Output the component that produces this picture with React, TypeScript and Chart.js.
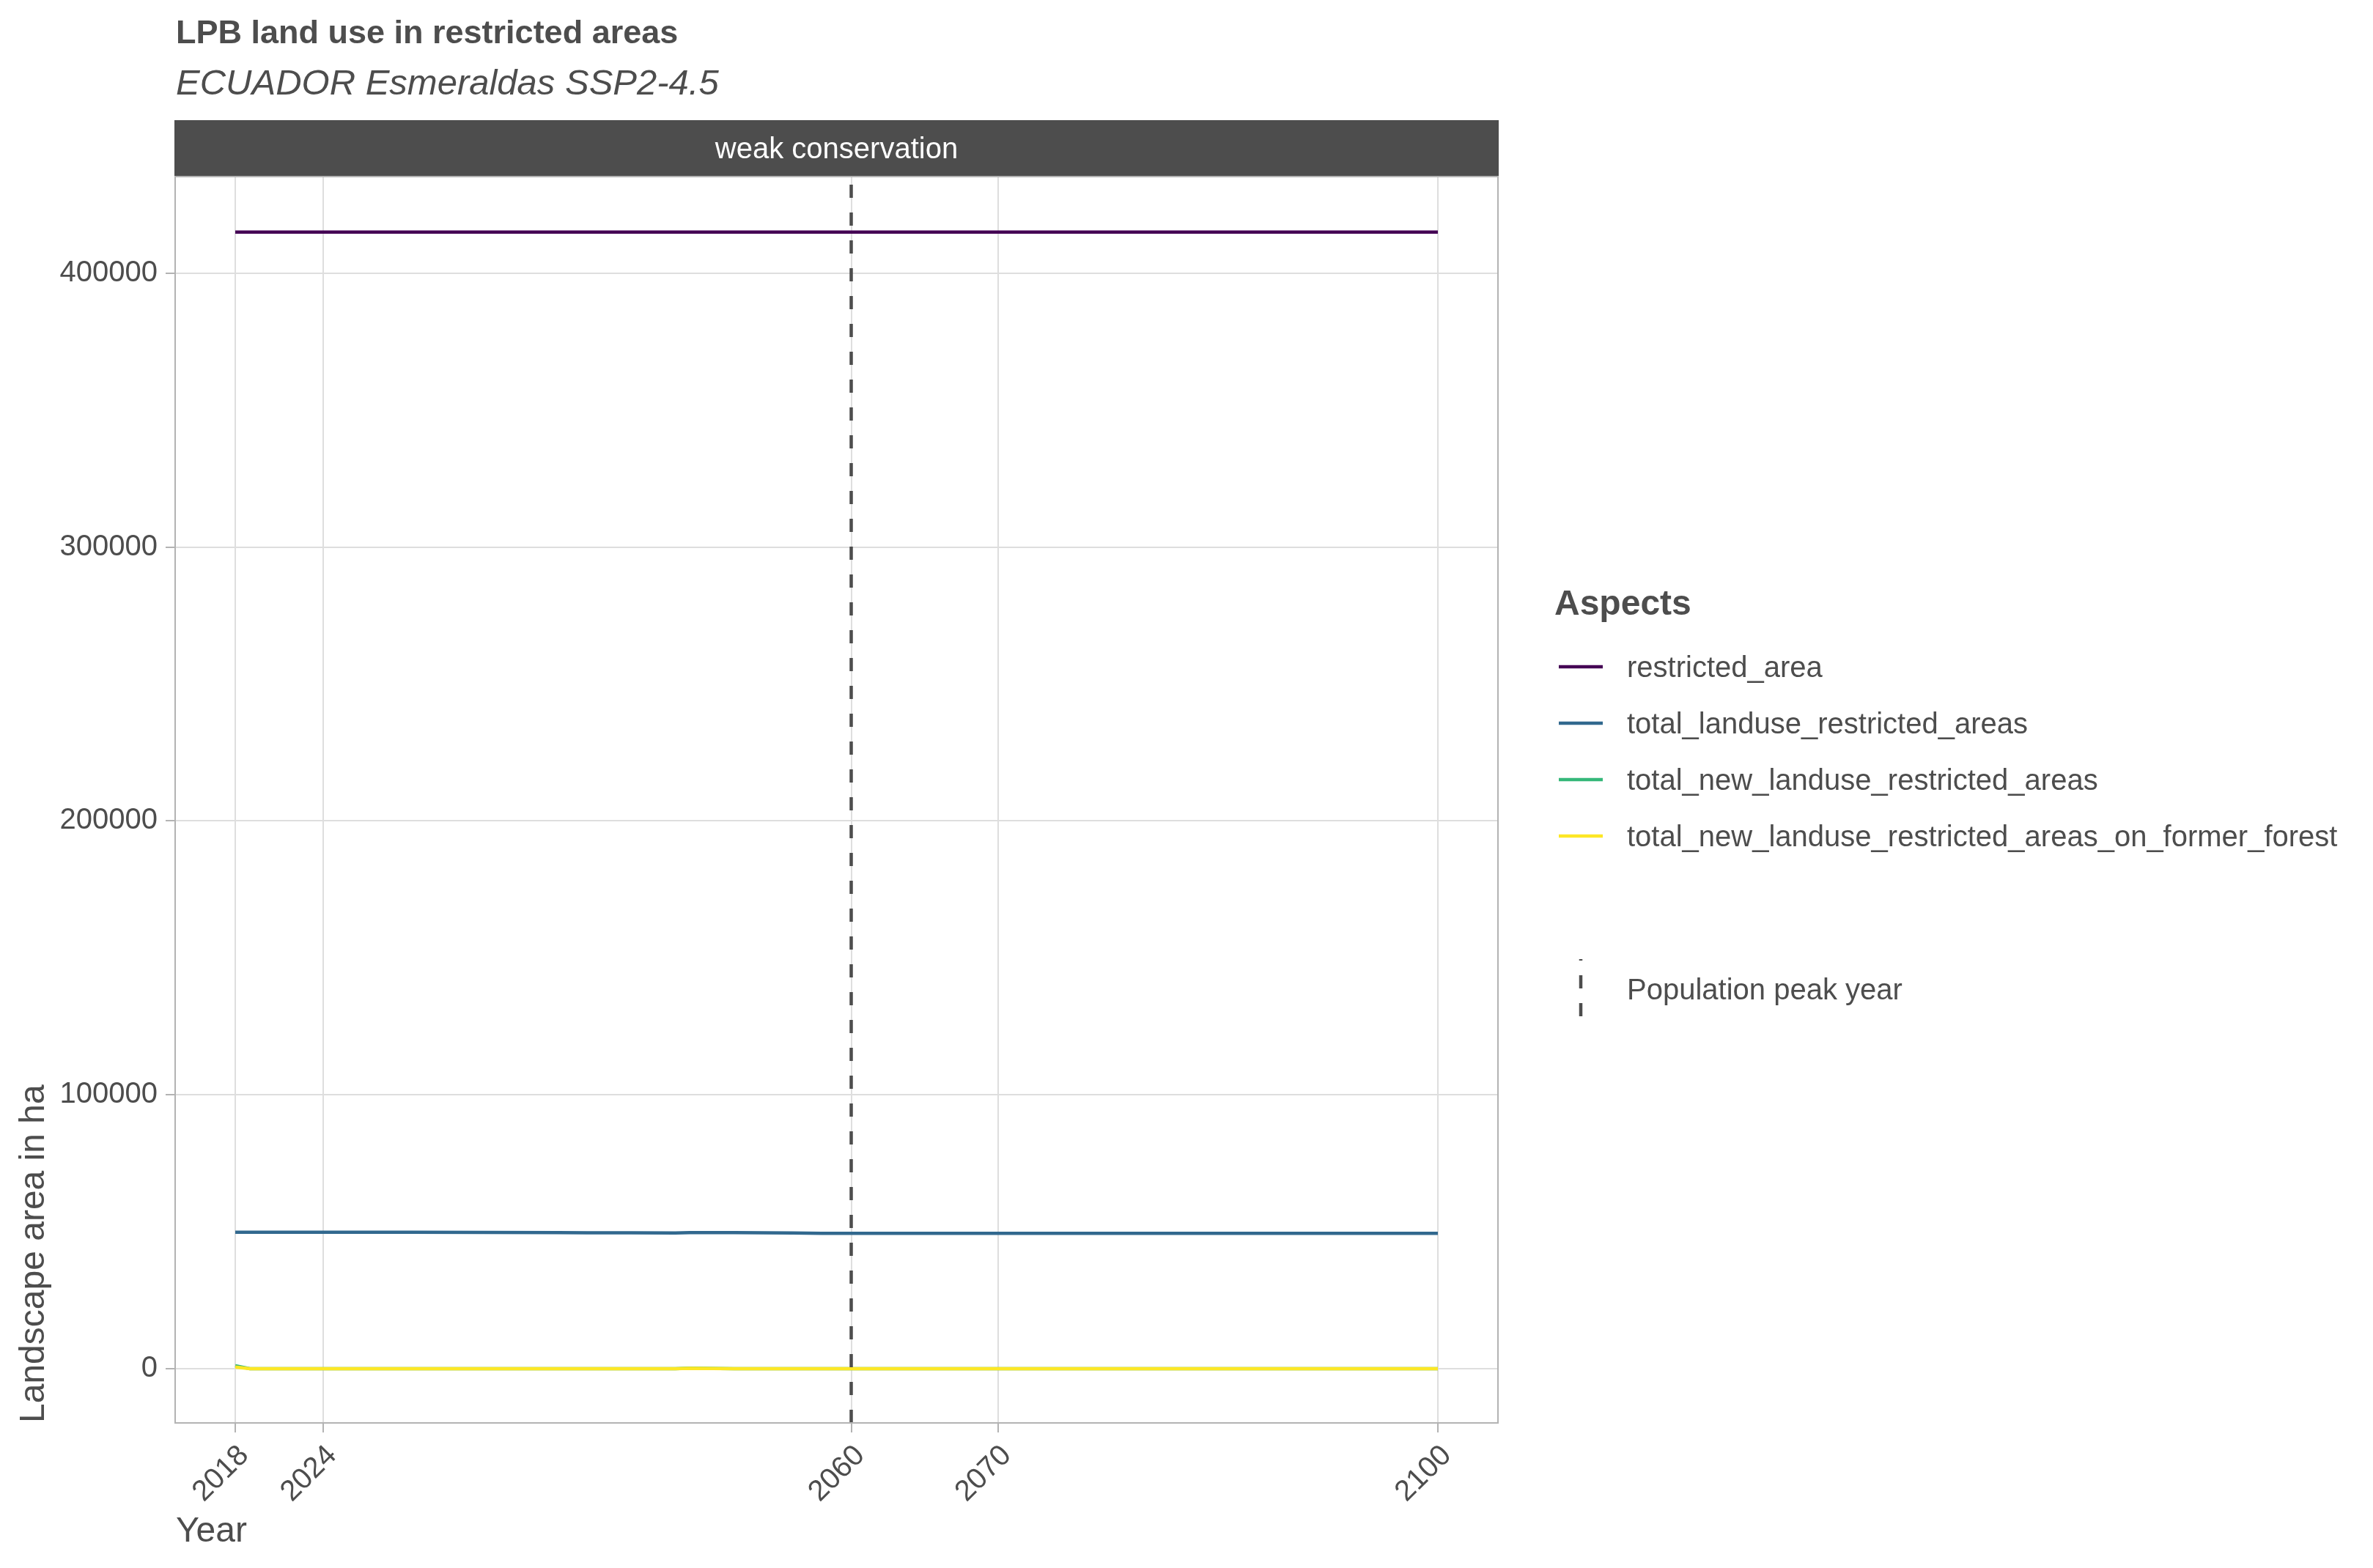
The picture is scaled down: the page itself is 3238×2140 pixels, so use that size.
import React, { useEffect, useRef } from "react";
import { Chart, registerables } from "chart.js";

Chart.register(...registerables);

const W = 3238;
const H = 2140;
const FONT = "'Liberation Sans', Arial, Helvetica, sans-serif";
const TEXT = "#4D4D4D";

// ---- data ----
const years = [2018, 2019, 2020, 2024, 2030, 2035, 2040, 2042, 2045, 2048, 2049, 2052, 2054, 2056, 2058, 2060, 2070, 2080, 2090, 2100];
const restrictedArea = [415000, 415000, 415000, 415000, 415000, 415000, 415000, 415000, 415000, 415000, 415000, 415000, 415000, 415000, 415000, 415000, 415000, 415000, 415000, 415000];
const totalLanduseRestricted = [49800, 49800, 49800, 49800, 49800, 49750, 49700, 49600, 49600, 49550, 49700, 49700, 49650, 49550, 49400, 49400, 49400, 49400, 49400, 49400];
const totalNewLanduseRestricted = [1100, 0, 0, 0, 0, 0, 0, 0, 0, 0, 200, 0, 0, 0, 0, 0, 0, 0, 0, 0];
const totalNewLanduseOnForest = [600, 0, 0, 0, 0, 0, 0, 0, 0, 0, 150, 0, 0, 0, 0, 0, 0, 0, 0, 0];

const seriesNames = [
  "restricted_area",
  "total_landuse_restricted_areas",
  "total_new_landuse_restricted_areas",
  "total_new_landuse_restricted_areas_on_former_forest",
];
const seriesValues = [restrictedArea, totalLanduseRestricted, totalNewLanduseRestricted, totalNewLanduseOnForest];
const seriesColors = ["#440154", "#31688E", "#35B779", "#FDE725"];

const xTickYears = [2018, 2024, 2060, 2070, 2100];
const yTickValues = [0, 100000, 200000, 300000, 400000];
const peakYear = 2060;

const xMin = 2013.9;
const xMax = 2104.1;
const yMin = -19800;
const yMax = 435300;

const titleText = "LPB land use in restricted areas";
const subtitleText = "ECUADOR Esmeraldas SSP2-4.5";
const stripText = "weak conservation";
const xTitle = "Year";
const yTitle = "Landscape area in ha";
const legendTitle = "Aspects";
const peakLabel = "Population peak year";

const decorPlugin = {
  id: "decor",
  beforeDraw(chart: any) {
    const ctx = chart.ctx;
    ctx.save();
    ctx.fillStyle = "#FFFFFF";
    ctx.fillRect(0, 0, W, H);
    ctx.restore();
  },
  afterDatasetsDraw(chart: any) {
    const { ctx, chartArea } = chart;
    ctx.save();
    ctx.strokeStyle = "#B3B3B3";
    ctx.lineWidth = 2;
    ctx.strokeRect(chartArea.left, chartArea.top, chartArea.right - chartArea.left, chartArea.bottom - chartArea.top);
    ctx.restore();
  },
  afterDraw(chart: any) {
    const { ctx, chartArea } = chart;
    const xScale = chart.scales.x;
    ctx.save();
    // titles
    ctx.fillStyle = TEXT;
    ctx.textAlign = "left";
    ctx.textBaseline = "alphabetic";
    ctx.font = `bold 45px ${FONT}`;
    ctx.fillText(titleText, 240, 59);
    ctx.font = `italic 49px ${FONT}`;
    ctx.fillText(subtitleText, 240, 129);

    // strip
    ctx.fillStyle = "#4D4D4D";
    ctx.fillRect(chartArea.left - 1, 164, chartArea.right - chartArea.left + 2, 76);
    ctx.fillStyle = "#FFFFFF";
    ctx.textAlign = "center";
    ctx.font = `40px ${FONT}`;
    ctx.fillText(stripText, (chartArea.left + chartArea.right) / 2, 216);

    // x tick labels (rotated 45°, anchored top-right at tick)
    ctx.fillStyle = TEXT;
    ctx.font = `40px ${FONT}`;
    ctx.textAlign = "right";
    ctx.textBaseline = "top";
    xTickYears.forEach((yr) => {
      const px = xScale.getPixelForValue(yr);
      ctx.save();
      ctx.translate(px - 2, 1966);
      ctx.rotate(-Math.PI / 4);
      ctx.fillText(String(yr), 0, 0);
      ctx.restore();
    });

    // axis titles
    ctx.textAlign = "left";
    ctx.textBaseline = "alphabetic";
    ctx.font = `48px ${FONT}`;
    ctx.fillText(xTitle, 240, 2104);
    ctx.save();
    ctx.translate(60, chartArea.bottom);
    ctx.rotate(-Math.PI / 2);
    ctx.fillText(yTitle, 0, 0);
    ctx.restore();

    // legend
    ctx.font = `bold 48px ${FONT}`;
    ctx.fillText(legendTitle, 2121, 839);
    const rows = [910, 987, 1064, 1141];
    ctx.font = `40px ${FONT}`;
    ctx.textBaseline = "middle";
    seriesNames.forEach((name, i) => {
      ctx.strokeStyle = seriesColors[i];
      ctx.lineWidth = 4.5;
      ctx.beginPath();
      ctx.moveTo(2127, rows[i]);
      ctx.lineTo(2187, rows[i]);
      ctx.stroke();
      ctx.fillStyle = TEXT;
      ctx.fillText(name, 2220, rows[i] + 3);
    });
    ctx.strokeStyle = "#4D4D4D";
    ctx.lineWidth = 4.5;
    ctx.setLineDash([18, 20]);
    ctx.beginPath();
    ctx.moveTo(2157, 1387);
    ctx.lineTo(2157, 1309);
    ctx.stroke();
    ctx.setLineDash([]);
    ctx.fillStyle = TEXT;
    ctx.fillText(peakLabel, 2220, 1353);
    ctx.restore();
  },
};

export default function App() {
  const canvasRef = useRef<HTMLCanvasElement | null>(null);

  useEffect(() => {
    document.body.style.margin = "0";
    const canvas = canvasRef.current;
    if (!canvas) return;

    const lineSets = seriesNames.map((name, i) => ({
      label: name,
      data: years.map((yr, j) => ({ x: yr, y: seriesValues[i][j] })),
      borderColor: seriesColors[i],
      backgroundColor: seriesColors[i],
      borderWidth: 4.5,
      pointRadius: 0,
      fill: false,
      tension: 0,
      order: 4 - i,
    }));

    const vline = {
      label: peakLabel,
      data: [
        { x: peakYear, y: yMin },
        { x: peakYear, y: yMax },
      ],
      borderColor: "#4D4D4D",
      borderWidth: 4.5,
      borderDash: [18, 20],
      pointRadius: 0,
      fill: false,
      order: 0,
    };

    const chart = new Chart(canvas, {
      type: "line",
      data: { datasets: [...lineSets, vline] as any },
      plugins: [decorPlugin as any],
      options: {
        animation: false,
        responsive: false,
        devicePixelRatio: 1,
        layout: { padding: { top: 241, right: 1194, left: 0, bottom: 0 } },
        plugins: {
          legend: { display: false },
          title: { display: false },
          tooltip: { enabled: false },
        },
        scales: {
          x: {
            type: "linear",
            min: xMin,
            max: xMax,
            afterBuildTicks: (s: any) => {
              s.ticks = xTickYears.map((v) => ({ value: v }));
            },
            afterFit: (s: any) => {
              s.height = H - 1942;
            },
            ticks: {
              display: false,
              autoSkip: false,
              callback: (v: any) => String(v),
            },
            grid: {
              color: "#DEDEDE",
              lineWidth: 2,
              tickLength: 13,
              tickColor: "#B3B3B3",
              tickWidth: 2,
            },
            border: { display: false },
          },
          y: {
            type: "linear",
            min: yMin,
            max: yMax,
            afterBuildTicks: (s: any) => {
              s.ticks = yTickValues.map((v) => ({ value: v }));
            },
            afterFit: (s: any) => {
              s.width = 239;
            },
            ticks: {
              padding: 11,
              color: TEXT,
              font: { family: FONT, size: 40 },
              callback: (v: any) => String(v),
            },
            grid: {
              color: "#DEDEDE",
              lineWidth: 2,
              tickLength: 13,
              tickColor: "#B3B3B3",
              tickWidth: 2,
            },
            border: { display: false },
          },
        },
      } as any,
    });

    return () => {
      chart.destroy();
    };
  }, []);

  return (
    <div style={{ width: W, height: H }}>
      <canvas ref={canvasRef} width={W} height={H} style={{ display: "block", width: W, height: H }} />
    </div>
  );
}
